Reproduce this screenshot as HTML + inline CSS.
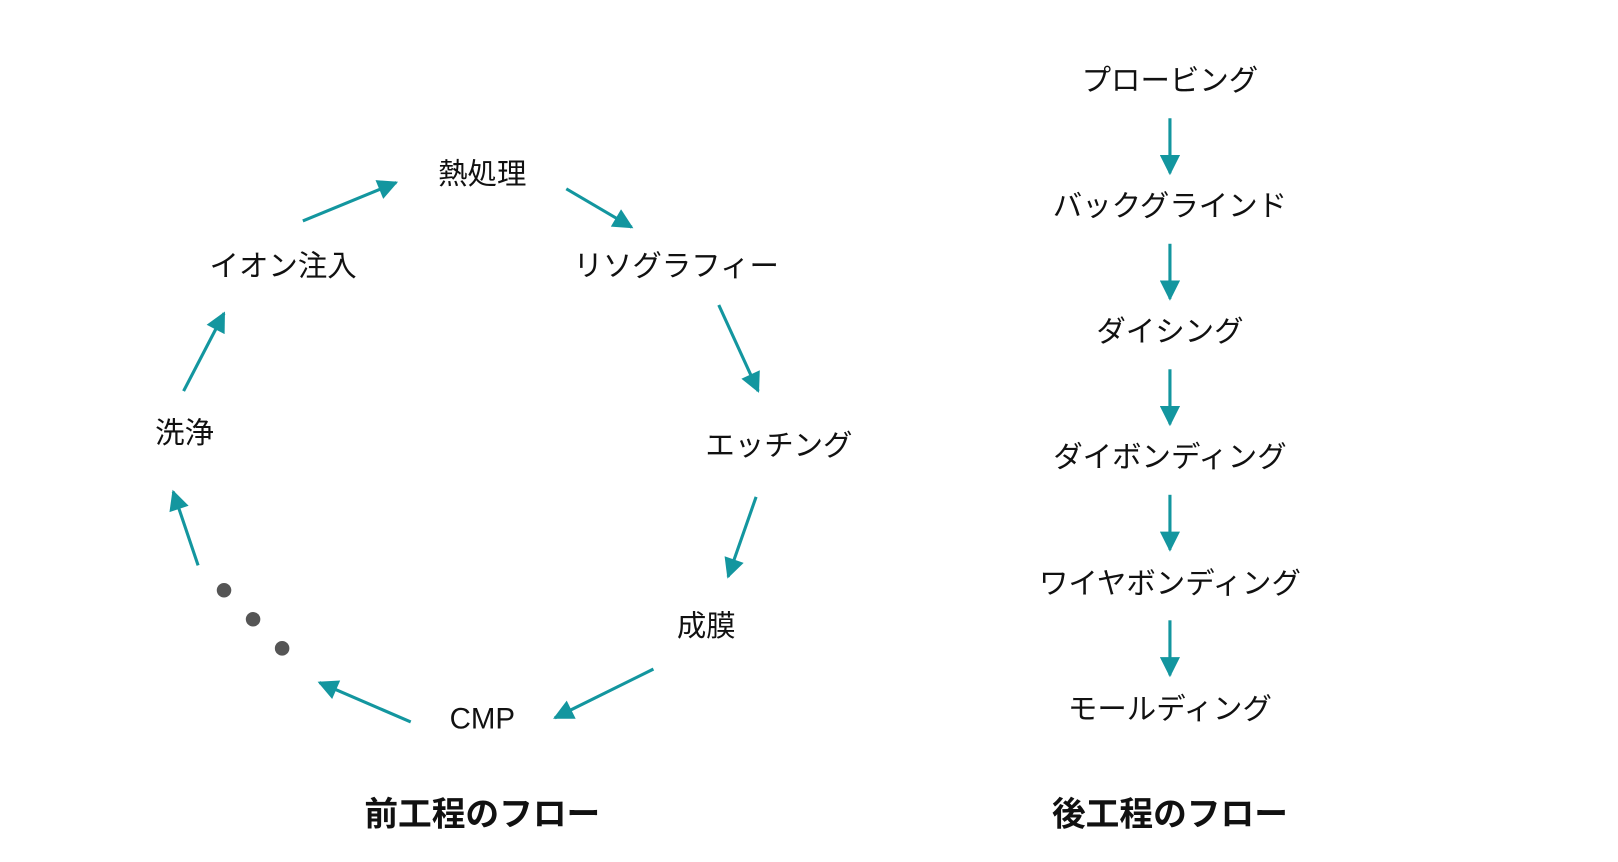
<!DOCTYPE html>
<html><head><meta charset="utf-8"><style>
html,body{margin:0;padding:0;background:#fff;width:1618px;height:862px;overflow:hidden}
svg{display:block}
text{font-family:"Liberation Sans","Noto Sans CJK JP",sans-serif;fill:#111;text-anchor:middle;dominant-baseline:central}
.t{font-size:28.4px}
.b{font-size:32.5px;font-weight:bold}
</style></head><body>
<svg width="1618" height="862" viewBox="0 0 1560 831" preserveAspectRatio="none">
<defs><marker id="a" viewBox="0 0 10 10" refX="9" refY="5" markerWidth="7.5" markerHeight="6.5" markerUnits="strokeWidth" orient="auto"><path d="M0,0L10,5L0,10z" fill="#13969f"/></marker></defs>
<g stroke="#13969f" stroke-width="3" fill="none" marker-end="url(#a)">
<line x1="292" y1="213" x2="382" y2="176"/>
<line x1="546" y1="182" x2="609" y2="219"/>
<line x1="693" y1="294" x2="731" y2="377"/>
<line x1="729" y1="479" x2="702" y2="556"/>
<line x1="630" y1="645" x2="535" y2="692"/>
<line x1="396" y1="696" x2="308" y2="658"/>
<line x1="191" y1="545" x2="167" y2="474"/>
<line x1="177" y1="377" x2="216" y2="302"/>
<line x1="1128" y1="114" x2="1128" y2="167"/>
<line x1="1128" y1="235" x2="1128" y2="288"/>
<line x1="1128" y1="356" x2="1128" y2="409"/>
<line x1="1128" y1="477" x2="1128" y2="530"/>
<line x1="1128" y1="598" x2="1128" y2="651"/>
</g>
<g fill="#555"><circle cx="216" cy="569" r="7"/><circle cx="244" cy="597" r="7"/><circle cx="272" cy="625" r="7"/></g>
<text class="t" x="465" y="168">熱処理</text>
<text class="t" x="273" y="257">イオン注入</text>
<text class="t" x="652" y="257">リソグラフィー</text>
<text class="t" x="178" y="418">洗浄</text>
<text class="t" x="751" y="430">エッチング</text>
<text class="t" x="681" y="604">成膜</text>
<text class="t" x="465" y="693">CMP</text>
<text class="t" x="1128" y="78">プロービング</text>
<text class="t" x="1128" y="199">バックグラインド</text>
<text class="t" x="1128" y="320">ダイシング</text>
<text class="t" x="1128" y="441">ダイボンディング</text>
<text class="t" x="1128" y="563">ワイヤボンディング</text>
<text class="t" x="1128" y="684">モールディング</text>
<text class="b" x="465" y="785">前工程のフロー</text>
<text class="b" x="1128" y="785">後工程のフロー</text>
</svg>
</body></html>
